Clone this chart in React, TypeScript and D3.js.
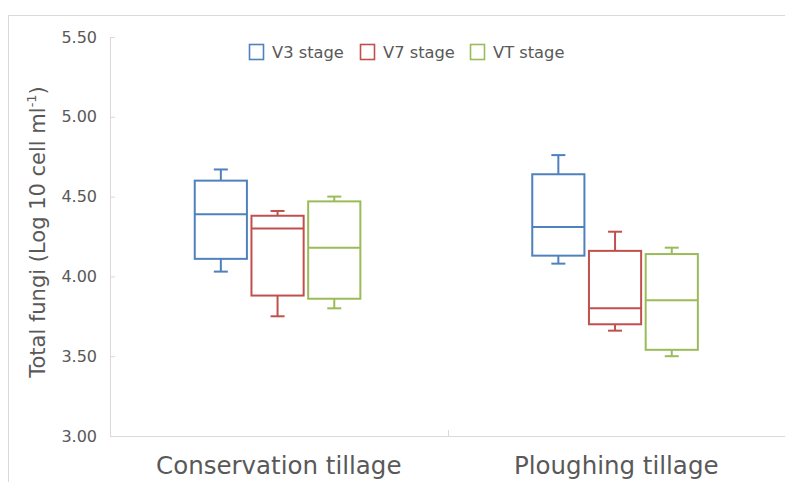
import React, { useEffect, useRef } from "react";
import * as d3 from "d3";

// categories and series
const tillages = ["Conservation tillage", "Ploughing tillage"];
const stages = ["V3 stage", "V7 stage", "VT stage"];
const stageColors = ["#4f81bd", "#c0504d", "#9bbb59"];

// box stats per stage, one value per tillage: [conservation, ploughing]
const whiskerHigh = [
  [4.67, 4.76],
  [4.41, 4.28],
  [4.5, 4.18],
];
const q3 = [
  [4.6, 4.64],
  [4.38, 4.16],
  [4.47, 4.14],
];
const median = [
  [4.39, 4.31],
  [4.3, 3.8],
  [4.18, 3.85],
];
const q1 = [
  [4.11, 4.13],
  [3.88, 3.7],
  [3.86, 3.54],
];
const whiskerLow = [
  [4.03, 4.08],
  [3.75, 3.66],
  [3.8, 3.5],
];

const yTicks = [3.0, 3.5, 4.0, 4.5, 5.0, 5.5];

const W = 785;
const H = 482;
const margin = { top: 37, right: 0, bottom: 46, left: 110 };

const App: React.FC = () => {
  const svgRef = useRef<SVGSVGElement | null>(null);

  useEffect(() => {
    const svg = d3.select(svgRef.current);
    svg.selectAll("*").remove();

    const grey = "#595959";
    const axisCol = "#d9d9d9";
    const font = "DejaVu Sans, Verdana, sans-serif";

    // outer chart frame
    svg
      .append("rect")
      .attr("x", 8.5)
      .attr("y", 15.5)
      .attr("width", 820)
      .attr("height", 520)
      .attr("fill", "none")
      .attr("stroke", axisCol);

    const x = d3
      .scaleBand()
      .domain(tillages)
      .range([margin.left, W - margin.right]);

    // stages inside each tillage band, slightly left of centre like the source
    const inner = d3
      .scaleBand()
      .domain(stages)
      .range([-84, 81.6])
      .paddingInner(0.08);

    const y = d3
      .scaleLinear()
      .domain([3, 5.5])
      .range([H - margin.bottom, margin.top]);

    // y axis
    const yAxis = svg
      .append("g")
      .attr("transform", `translate(${margin.left},0)`)
      .call(
        d3
          .axisLeft(y)
          .tickValues(yTicks)
          .tickFormat(d3.format(".2f"))
          .tickSizeInner(-5)
          .tickSizeOuter(0)
          .tickPadding(13)
      );
    yAxis.select(".domain").attr("stroke", axisCol);
    yAxis.selectAll(".tick line").attr("stroke", axisCol);
    yAxis
      .selectAll(".tick text")
      .attr("fill", grey)
      .attr("font-size", 16)
      .attr("font-family", font);

    // x axis line and category divider ticks
    const x0 = H - margin.bottom;
    svg
      .append("line")
      .attr("x1", margin.left)
      .attr("x2", W)
      .attr("y1", x0 + 0.5)
      .attr("y2", x0 + 0.5)
      .attr("stroke", axisCol);
    tillages.slice(1).forEach((t) => {
      const xb = Math.round(x(t)!) + 0.5;
      svg
        .append("line")
        .attr("x1", xb)
        .attr("x2", xb)
        .attr("y1", x0)
        .attr("y2", x0 - 6)
        .attr("stroke", axisCol);
    });

    svg
      .append("g")
      .selectAll("text")
      .data(tillages)
      .join("text")
      .attr("x", (d) => x(d)! + x.bandwidth() / 2)
      .attr("y", 474)
      .attr("text-anchor", "middle")
      .attr("fill", grey)
      .attr("font-size", 24.5)
      .attr("font-family", font)
      .text((d) => d);

    // y axis title
    const title = svg
      .append("text")
      .attr("transform", `translate(45,232) rotate(-90)`)
      .attr("text-anchor", "middle")
      .attr("fill", grey)
      .attr("font-size", 21)
      .attr("font-family", font);
    title.append("tspan").text("Total fungi (Log 10 cell ml");
    title
      .append("tspan")
      .attr("font-size", 13)
      .attr("dy", -9)
      .text("-1");
    title.append("tspan").attr("dy", 9).text(")");

    // boxes
    const bw = inner.bandwidth();
    const cap = 14;
    stages.forEach((s, si) => {
      const col = stageColors[si];
      tillages.forEach((t, ti) => {
        const cx = x(t)! + x.bandwidth() / 2 + inner(s)! + bw / 2;
        const g = svg
          .append("g")
          .attr("stroke", col)
          .attr("stroke-width", 2)
          .attr("fill", "none");
        // whiskers
        g.append("line")
          .attr("x1", cx)
          .attr("x2", cx)
          .attr("y1", y(whiskerHigh[si][ti]))
          .attr("y2", y(q3[si][ti]));
        g.append("line")
          .attr("x1", cx)
          .attr("x2", cx)
          .attr("y1", y(q1[si][ti]))
          .attr("y2", y(whiskerLow[si][ti]));
        [whiskerHigh[si][ti], whiskerLow[si][ti]].forEach((v) => {
          g.append("line")
            .attr("x1", cx - cap / 2)
            .attr("x2", cx + cap / 2)
            .attr("y1", y(v))
            .attr("y2", y(v));
        });
        g.append("rect")
          .attr("x", cx - bw / 2)
          .attr("y", y(q3[si][ti]))
          .attr("width", bw)
          .attr("height", y(q1[si][ti]) - y(q3[si][ti]))
          .attr("fill", "#fff");
        g.append("line")
          .attr("x1", cx - bw / 2)
          .attr("x2", cx + bw / 2)
          .attr("y1", y(median[si][ti]))
          .attr("y2", y(median[si][ti]));
      });
    });

    // legend
    const legendX = [249, 360, 470];
    const leg = svg
      .append("g")
      .selectAll("g")
      .data(stages)
      .join("g")
      .attr("transform", (_, i) => `translate(${legendX[i]},44)`);
    leg
      .append("rect")
      .attr("x", 0.5)
      .attr("y", 0.5)
      .attr("width", 14)
      .attr("height", 15)
      .attr("fill", "#fff")
      .attr("stroke", (_, i) => stageColors[i])
      .attr("stroke-width", 1.6);
    leg
      .append("text")
      .attr("x", 23)
      .attr("y", 14)
      .attr("fill", grey)
      .attr("font-size", 16.3)
      .attr("font-family", font)
      .text((d) => d);
  }, []);

  return (
    <svg
      ref={svgRef}
      width={W}
      height={H}
      style={{ position: "absolute", left: 0, top: 0, background: "#fff" }}
    />
  );
};

export default App;
